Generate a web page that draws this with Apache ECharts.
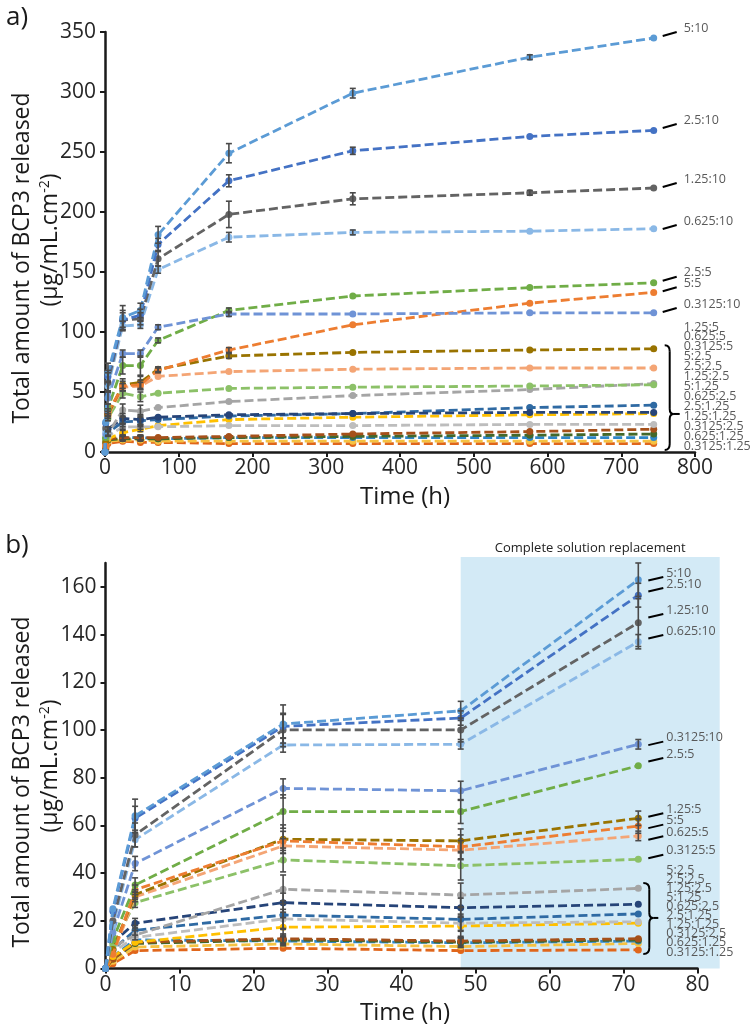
<!DOCTYPE html>
<html><head><meta charset="utf-8">
<script src="https://cdn.jsdelivr.net/npm/echarts@6/dist/echarts.min.js"></script>
<style>html,body{margin:0;padding:0;background:#fff}#c{width:750px;height:1033px}</style>
</head><body><div id="c"></div>
<script>
// ---------- DATA ----------
const seriesNames = ['5:10','2.5:10','1.25:10','0.625:10','0.3125:10','2.5:5','5:5','1.25:5','0.625:5','0.3125:5',
  '5:2.5','2.5:2.5','1.25:2.5','5:1.25','0.625:2.5','2.5:1.25','1.25:1.25','0.3125:2.5','0.625:1.25','0.3125:1.25'];

// panel a (h)
const timesA = [0,1,4,24,48,72,168,336,576,744];
const valuesA = [
  [0,25,66,112,118,181,249,299,329,345],
  [0,24,63,110,114,173,226,251,263,268],
  [0,20,58,110,111,161,198,211,216,220],
  [0,18,55,105,106,152,179,183,184,186],
  [0,15,45,82,82,104,115,115,116,116],
  [0,12,36,72,72,93,118,130,137,141],
  [0,5,33,55,56,68,85,106,124,133],
  [0,8,31,56,58,69,80,83,85,86],
  [0,6,30,54,55,63,67,69,70,70],
  [0,10,28,49,46,49,53,54,55,56],
  [0,9,15,35,34,37,42,47,52,57],
  [0,11,19,28,27,29,31,32,33,33],
  [0,8,16,25,26,27,30,32,37,39],
  [0,7,13,21,21,21,22,22,23,23],
  [0,5,11,16,19,22,27,29,31,32],
  [0,4,11,12,12,12,13,15,17,19],
  [0,4,10,11,11,11,12,13,14,15],
  [0,5,12,12,12,11,12,12,12,12],
  [0,3,9,10,10,9,9,9,9,9],
  [0,2,7,9,8,8,7,7,7,7]
];
const errorsA = [
  [0,0,8,10,6,7,8,4,2,1],
  [0,0,5,6,5,5,5,3,1,1],
  [0,0,8,8,5,6,11,5,2,1],
  [0,0,4,4,3,3,4,2,1,1],
  [0,0,5,3,3,2,2,1,1,1],
  [0,0,4,7,8,2,2,1,1,1],
  [0,0,3,4,4,2,2,1,1,1],
  [0,0,3,5,5,2,2,1,1,1],
  [0,0,2,3,3,1,1,1,1,1],
  [0,0,2,4,4,1,1,1,1,1],
  [0,0,2,5,5,1,1,1,1,1],
  [0,0,2,4,4,1,1,1,1,1],
  [0,0,2,4,4,1,1,1,1,1],
  [0,0,1,2,2,1,1,1,1,1],
  [0,0,1,2,2,1,1,1,1,1],
  [0,0,1,2,2,1,1,1,1,1],
  [0,0,1,2,2,1,1,1,1,1],
  [0,0,1,2,2,1,1,1,1,1],
  [0,0,1,1,1,1,1,1,1,1],
  [0,0,1,1,1,1,1,1,1,1]
];

// panel b (h)
const timesB = [0,1,4,24,48,72];
const valuesB = [
  [0,25,64,102.5,108,163],
  [0,24,63,101.5,105,156.5],
  [0,20,56,100,100,145],
  [0,18,54,93.7,94,137],
  [0,15,44,75.5,74.5,94],
  [0,12,35,65.8,65.8,85],
  [0,6,33,53.5,51,59.7],
  [0,8,31,54.2,53.5,63],
  [0,6,30,51.4,49.6,55.6],
  [0,10,27.6,45.5,43.1,45.8],
  [0,9,14,33.2,30.8,33.6],
  [0,11,19,27.6,25.5,26.9],
  [0,8,16,22.4,20.6,22.9],
  [0,7,13,20.8,19,19.6],
  [0,5,11,17.3,17.8,19],
  [0,4,11,12.5,11.5,12.5],
  [0,4,10.5,12,11,12],
  [0,5,12,11.5,10.8,11.5],
  [0,3,9,10.3,9.2,10.5],
  [0,2,7.5,8.5,7.5,7.8]
];
const errorsB = [
  [0,0,7,8,4,7],
  [0,0,5,5,3,5],
  [0,0,5,7,5,10],
  [0,0,3,3,2,3],
  [0,0,3,4,4,2],
  [0,0,3,7,5,1],
  [0,0,2,4,5,3],
  [0,0,2,6,5,3],
  [0,0,2,3,4,2],
  [0,0,2,5,6,1],
  [0,0,2,6,5,1],
  [0,0,2,4,4,1],
  [0,0,2,6,5,1],
  [0,0,1,4,3,1],
  [0,0,1,4,5,1],
  [0,0,1,2,2,1],
  [0,0,1,2,2,1],
  [0,0,1,2,2,1],
  [0,0,1,1,1,1],
  [0,0,1,1,1,1]
];

const xTicksA = [0,100,200,300,400,500,600,700,800];
const yTicksA = [0,50,100,150,200,250,300,350];
const xTicksB = [0,10,20,30,40,50,60,70,80];
const yTicksB = [0,20,40,60,80,100,120,140,160];
const replacementStart = 48, replacementEnd = 83;

// right-hand labels: [text, y value where the label sits]
const sideLabelsA = [['5:10',353.3],['2.5:10',276.7],['1.25:10',227.5],['0.625:10',192.5],['2.5:5',149.4],['5:5',140.6],['0.3125:10',123.3]];
const bracketListA = ['1.25:5','0.625:5','0.3125:5','5:2.5','2.5:2.5','1.25:2.5','5:1.25','0.625:2.5','2.5:1.25','1.25:1.25','0.3125:2.5','0.625:1.25','0.3125:1.25'];
const sideLabelsB = [['5:10',165.8],['2.5:10',161.2],['1.25:10',150.3],['0.625:10',141.5],['0.3125:10',96.8],['2.5:5',89.9],['1.25:5',66.8],['5:5',62],['0.625:5',57.1],['0.3125:5',49.4]];
const bracketListB = ['5:2.5','2.5:2.5','1.25:2.5','5:1.25','0.625:2.5','2.5:1.25','1.25:1.25','0.3125:2.5','0.625:1.25','0.3125:1.25'];

// ---------- STYLE ----------
const colors = ['#5B9BD5','#4472C4','#636363','#8AB8E6','#6F93D6','#70AD47','#ED7D31','#997300','#F4A575','#8CC168',
  '#A5A5A5','#264478','#2F6AA3','#BDBDBD','#FFC000','#A5501A','#43682B','#2E86C9','#F5C242','#E0661B'];
const FONT = "'Open Sans', sans-serif";
const axisCol = '#1a1a1a';

function axisBase(extra){
  return Object.assign({
    axisLine:{show:true,onZero:false,lineStyle:{color:axisCol,width:2.5}},
    axisTick:{show:true,inside:false,length:5,lineStyle:{color:axisCol,width:2}},
    splitLine:{show:false},
    axisLabel:{color:'#262626',fontSize:21,fontFamily:FONT}
  }, extra);
}

const option = {
  animation:false,
  backgroundColor:'#fff',
  grid:[
    {left:105,top:32,width:590,height:420},
    {left:105.5,top:563,width:592,height:405.5}
  ],
  xAxis:[
    axisBase({type:'value',gridIndex:0,min:0,max:800,interval:100}),
    axisBase({type:'value',gridIndex:1,min:0,max:80,interval:10})
  ],
  yAxis:[
    axisBase({type:'value',gridIndex:0,min:0,max:350,interval:50}),
    axisBase({type:'value',gridIndex:1,min:0,max:170,interval:20,
      axisTick:{show:true,inside:false,length:5,lineStyle:{color:axisCol,width:2},customValues:yTicksB},
      axisLabel:{color:'#262626',fontSize:21,fontFamily:FONT,customValues:yTicksB}})
  ],
  series:[]
};
option.xAxis[0].axisLabel.margin = 6;
option.xAxis[1].axisLabel.margin = 6;
option.yAxis[0].axisLabel.margin = 9;
option.yAxis[1].axisLabel.margin = 9;

function addPanel(times, values, errors, gi){
  values.forEach((vals, i) => {
    option.series.push({
      type:'line', name:seriesNames[i], xAxisIndex:gi, yAxisIndex:gi,
      data: times.map((t,k)=>[t, vals[k]]),
      symbol:'circle', symbolSize:7, z:2+ (20-i)*0.01,
      lineStyle:{color:colors[i],width:2.8,type:[9,4]},
      itemStyle:{color:colors[i]}
    });
  });
  const errData = [];
  values.forEach((vals,i)=>{
    vals.forEach((v,k)=>{
      const e = errors[i][k];
      if (e >= 2) errData.push([times[k], v - e, v + e]);
    });
  });
  option.series.push({
    type:'custom', xAxisIndex:gi, yAxisIndex:gi, z:5,
    data: errData, encode:{x:0,y:[1,2]},
    renderItem:function(params, api){
      const x = api.value(0);
      const p1 = api.coord([x, api.value(1)]), p2 = api.coord([x, api.value(2)]);
      const w = 3, st = {stroke:'#4a4a4a', lineWidth:1.6};
      return {type:'group', children:[
        {type:'line', shape:{x1:p1[0],y1:p1[1],x2:p2[0],y2:p2[1]}, style:st},
        {type:'line', shape:{x1:p1[0]-w,y1:p1[1],x2:p1[0]+w,y2:p1[1]}, style:st},
        {type:'line', shape:{x1:p2[0]-w,y1:p2[1],x2:p2[0]+w,y2:p2[1]}, style:st}
      ]};
    }
  });
}
addPanel(timesA, valuesA, errorsA, 0);
addPanel(timesB, valuesB, errorsB, 1);

const chart = echarts.init(document.getElementById('c'), null, {renderer:'canvas'});
chart.setOption(option);

// ---------- ANNOTATIONS ----------
const g = [];
const labelFont = "12.5px 'Open Sans', sans-serif";
const labelCol = '#595959';
function txt(x,y,text,font,fill,align){
  return {type:'text',x:x,y:y,z:50,silent:true,
    style:{text:text,font:font,fill:fill,align:align||'left',verticalAlign:'middle',textAlign:align||'left',textVerticalAlign:'middle'}};
}
function seg(x1,y1,x2,y2,w){
  return {type:'line',z:50,silent:true,shape:{x1,y1,x2,y2},style:{stroke:'#000',lineWidth:w||2}};
}
function curve(x1,y1,cx,cy,x2,y2){
  return {type:'bezierCurve',z:50,silent:true,shape:{x1,y1,x2,y2,cpx1:cx,cpy1:cy},style:{stroke:'#000',lineWidth:2,fill:null}};
}
function bracket(bx,yTop,yMid,yBot,arm,tick){
  g.push(curve(bx-arm,yTop,bx,yTop,bx,yTop+6));
  g.push(seg(bx,yTop+6,bx,yMid-5));
  g.push(curve(bx,yMid-5,bx,yMid,bx+4,yMid));
  g.push(curve(bx+4,yMid,bx,yMid,bx,yMid+5));
  g.push(seg(bx,yMid+5,bx,yBot-6));
  g.push(curve(bx,yBot-6,bx,yBot,bx-arm,yBot));
  g.push(seg(bx+4,yMid,bx+tick,yMid));
}

// shaded replacement window in panel b
const s0 = chart.convertToPixel({gridIndex:1},[replacementStart,0]);
const s1 = chart.convertToPixel({gridIndex:1},[replacementEnd,172.5]);
g.push({type:'rect',z:-1,silent:true,shape:{x:s0[0],y:s1[1],width:s1[0]-s0[0],height:s0[1]-s1[1]},style:{fill:'#D3EAF6'}});
g.push(txt((s0[0]+s1[0])/2, s1[1]-9, 'Complete solution replacement', "13px 'Open Sans', sans-serif", '#222','center'));

// panel a side labels
const endA = chart.convertToPixel({gridIndex:0},[timesA[timesA.length-1],0])[0];
sideLabelsA.forEach(([t,v])=>{
  const y = chart.convertToPixel({gridIndex:0},[0,v])[1];
  g.push(seg(endA+9,y+8,endA+23,y+4));
  g.push(txt(endA+30,y,t,labelFont,labelCol));
});
{
  const yTop = chart.convertToPixel({gridIndex:0},[0,89])[1];
  const yBot = chart.convertToPixel({gridIndex:0},[0,1.7])[1];
  const yMid = chart.convertToPixel({gridIndex:0},[0,31.7])[1];
  bracket(endA+16,yTop,yMid,yBot,5,10);
  const t0 = chart.convertToPixel({gridIndex:0},[0,104.2])[1];
  const t1 = chart.convertToPixel({gridIndex:0},[0,5])[1];
  bracketListA.forEach((t,i)=>{
    g.push(txt(endA+30, t0 + (t1-t0)*i/(bracketListA.length-1), t, labelFont, labelCol));
  });
}

// panel b side labels
const endB = chart.convertToPixel({gridIndex:1},[timesB[timesB.length-1],0])[0];
sideLabelsB.forEach(([t,v])=>{
  const y = chart.convertToPixel({gridIndex:1},[0,v])[1];
  g.push(seg(endB+10,y+7.5,endB+25,y+4));
  g.push(txt(endB+28,y,t,labelFont,labelCol));
});
{
  const yTop = chart.convertToPixel({gridIndex:1},[0,35.8])[1];
  const yBot = chart.convertToPixel({gridIndex:1},[0,6.1])[1];
  const yMid = chart.convertToPixel({gridIndex:1},[0,21.2])[1];
  bracket(endB+11,yTop,yMid,yBot,6,9);
  const t0 = chart.convertToPixel({gridIndex:1},[0,41.3])[1];
  const t1 = chart.convertToPixel({gridIndex:1},[0,6.9])[1];
  bracketListB.forEach((t,i)=>{
    g.push(txt(endB+28, t0 + (t1-t0)*i/(bracketListB.length-1), t, labelFont, labelCol));
  });
}

// axis titles and panel letters
const bigFont = "23px 'Open Sans', sans-serif";
function ctxt(x,y,text,font,rot,rich){
  const st = {text:text,font:font,fill:'#1a1a1a',align:'center',verticalAlign:'middle',textAlign:'center',textVerticalAlign:'middle'};
  if (rich) st.rich = rich;
  return {type:'text',x:x,y:y,z:50,silent:true,rotation:rot||0,style:st};
}
const supRich = {b:{fontSize:23,fontFamily:FONT,fill:'#1a1a1a'},s:{fontSize:14,fontFamily:FONT,fill:'#1a1a1a',verticalAlign:'top',padding:[0,0,8,0]}};
g.push(ctxt(22,258,'Total amount of BCP3 released',bigFont,Math.PI/2));
g.push(ctxt(50,240,'{b|(µg/mL.cm}{s|-2}{b|)}',bigFont,Math.PI/2,supRich));
g.push(ctxt(405,497,'Time (h)',"24px 'Open Sans', sans-serif"));
g.push(ctxt(22,782,'Total amount of BCP3 released',bigFont,Math.PI/2));
g.push(ctxt(50,766,'{b|(µg/mL.cm}{s|-2}{b|)}',bigFont,Math.PI/2,supRich));
g.push(ctxt(405,1013,'Time (h)',"24px 'Open Sans', sans-serif"));
g.push(ctxt(17,18,'a)',"26px 'Open Sans', sans-serif"));
g.push(ctxt(17,546,'b)',"26px 'Open Sans', sans-serif"));

chart.setOption({graphic:g});
</script>
</body></html>
